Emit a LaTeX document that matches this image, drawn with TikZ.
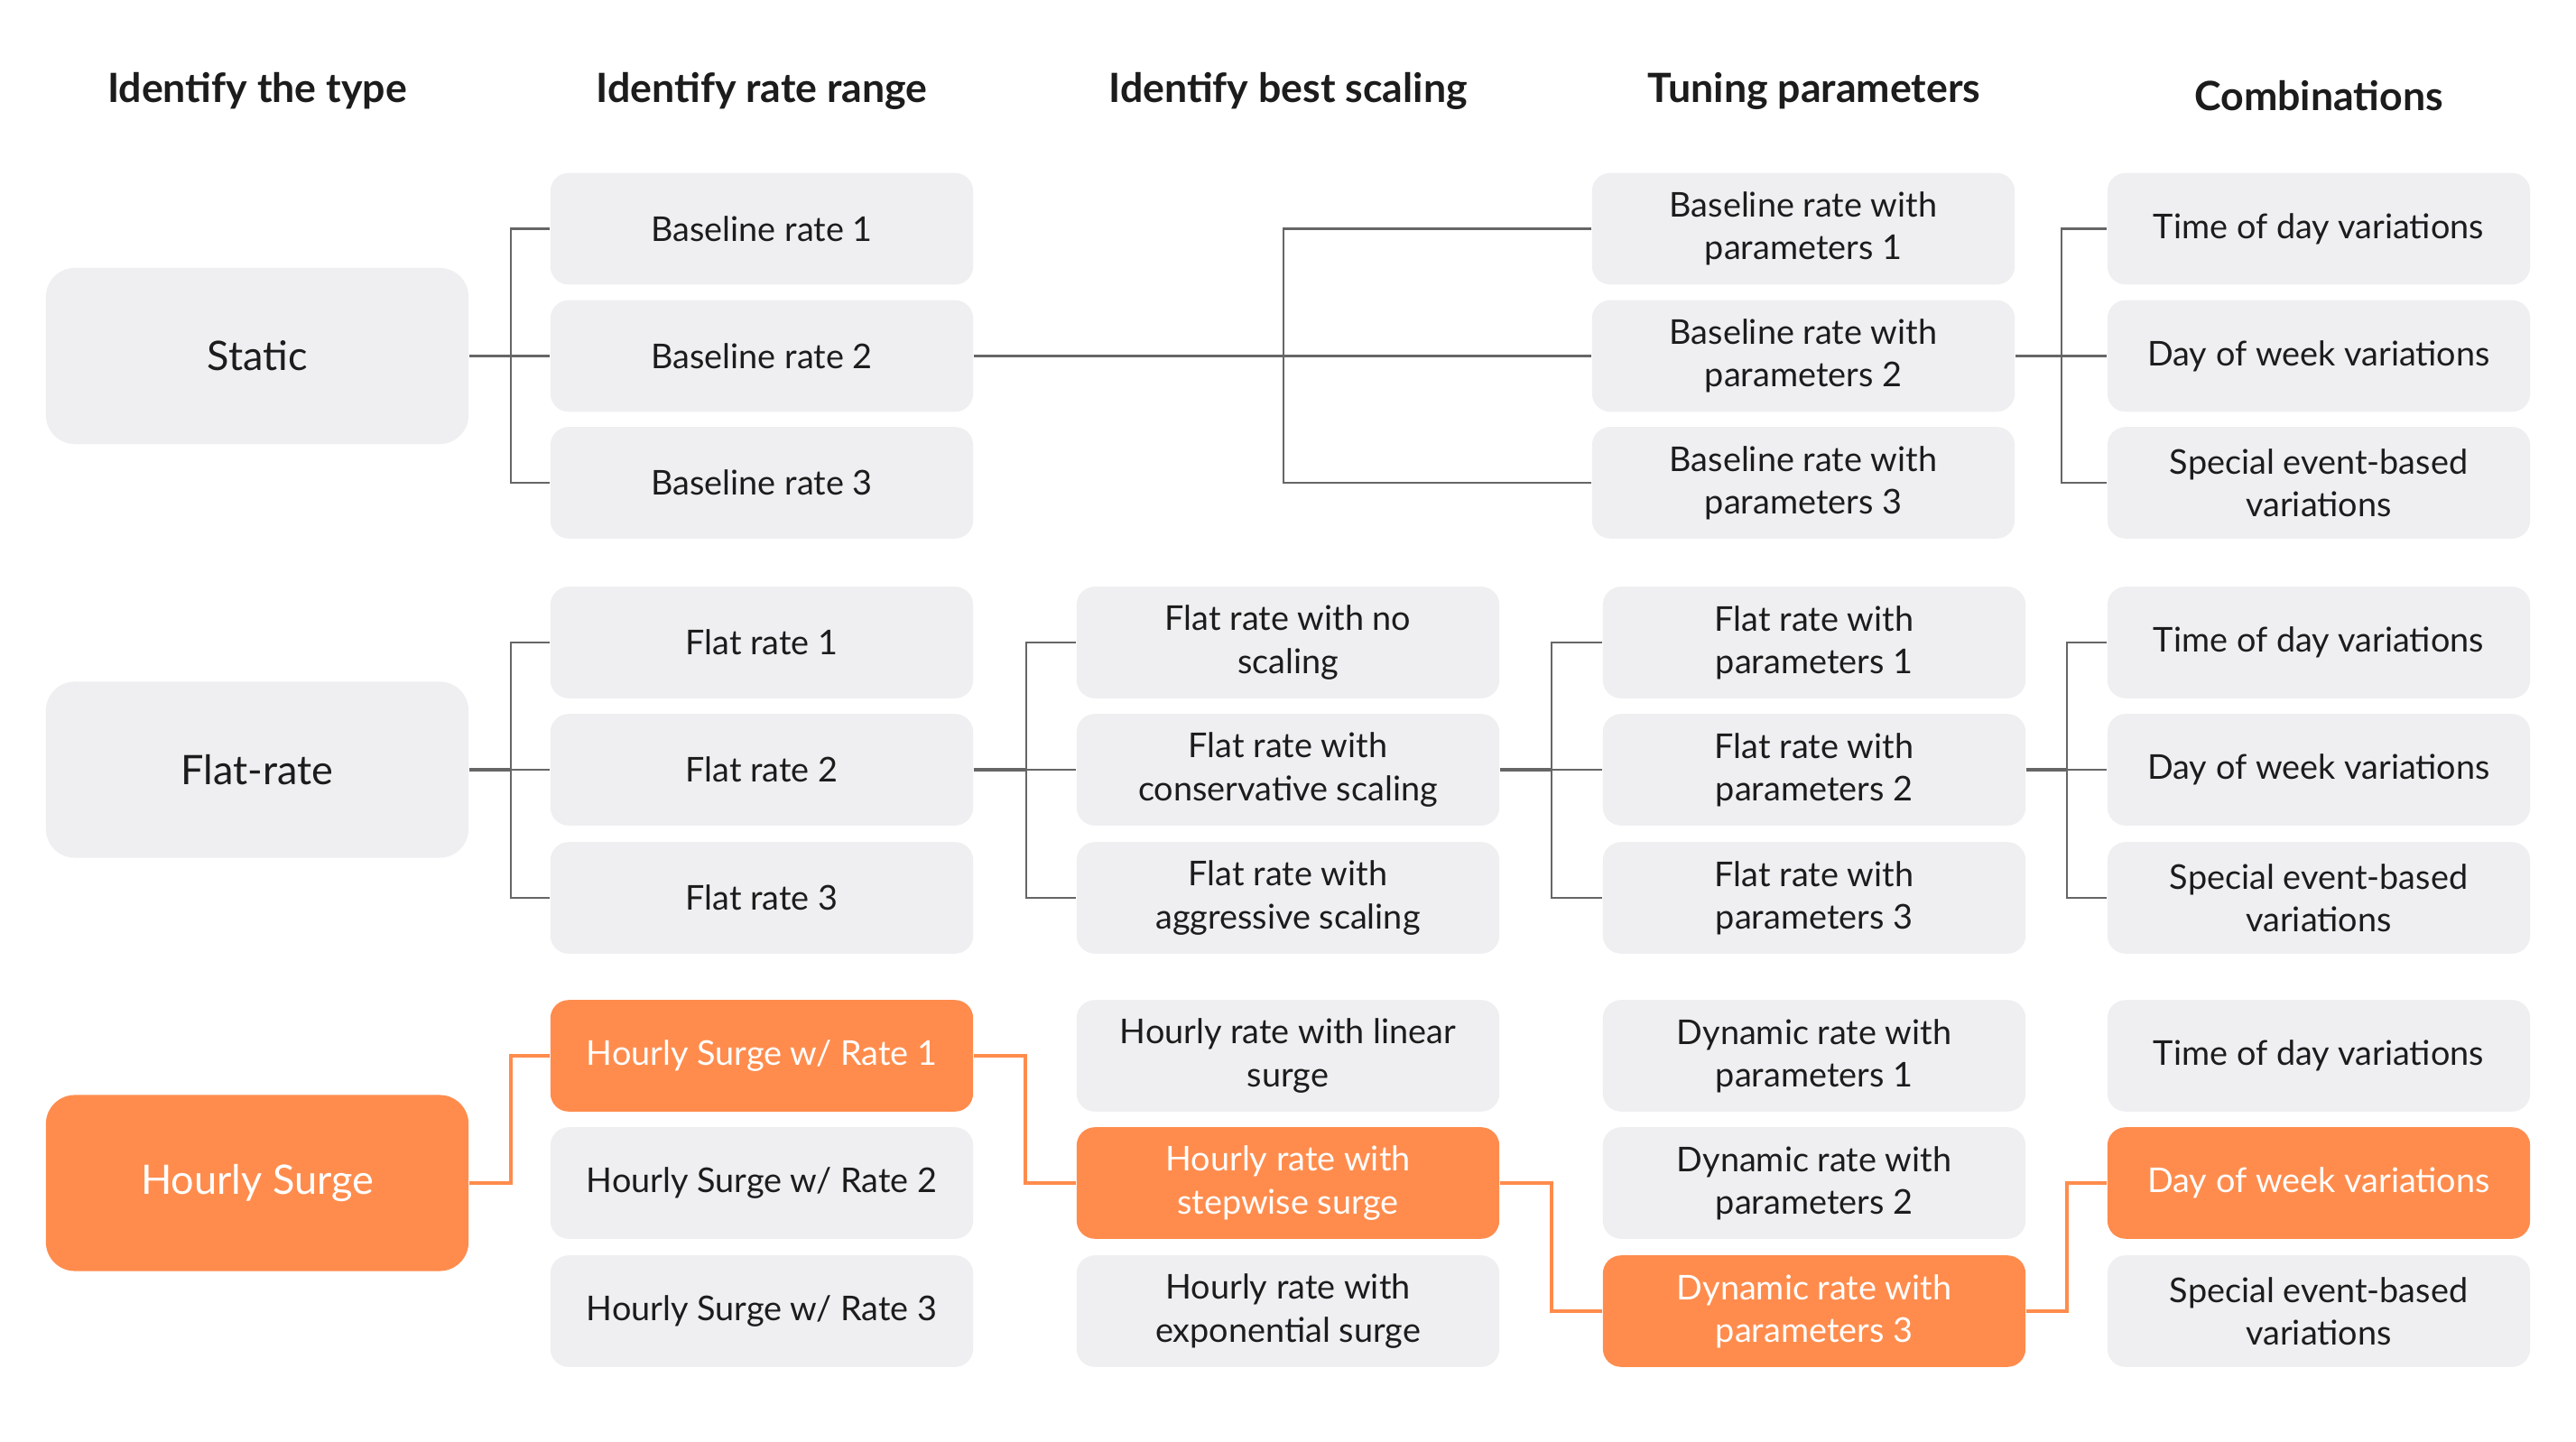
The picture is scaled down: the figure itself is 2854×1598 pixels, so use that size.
\documentclass[tikz,border=0pt]{standalone}
\usepackage{fontspec}
\setmainfont{Lato}
\definecolor{boxgray}{RGB}{239,238,241}
\definecolor{hlor}{RGB}{255,140,77}
\definecolor{linegray}{RGB}{102,102,102}
\definecolor{txt}{RGB}{28,28,28}
\newlength{\pxu}\setlength{\pxu}{0.01cm}
\tikzset{
  cell/.style={rounded corners=20\pxu, fill=boxgray, minimum width=4.68cm, minimum height=1.235cm, align=center, inner sep=0pt, text=txt, font=\fontsize{10.75pt}{13.4pt}\selectfont},
  big/.style={rounded corners=32\pxu, fill=boxgray, minimum width=4.68cm, minimum height=1.95cm, align=center, inner sep=0pt, text=txt, font=\fontsize{12.8pt}{15pt}\selectfont},
  hot/.style={fill=hlor, text=white},
  head/.style={font=\fontsize{12.7pt}{15pt}\selectfont\bfseries, text=txt, inner sep=0pt},
  branch/.style={draw=linegray, line width=2.4\pxu},
  trunk/.style={draw=linegray, line width=3.2\pxu},
  hl/.style={draw=hlor, line width=4.5\pxu, line join=miter},
}
\newcommand{\fanout}[5]{%
  \path (#1.east) ++(#2,0) coordinate (J);
  \draw[trunk] (#1.east) -- (J);
  \draw[branch] (#3.west) -| (J);
  \draw[branch] (#4.west) -- (J);
  \draw[branch] (#5.west) -| (J);
}
\begin{document}
\begin{tikzpicture}[x=0.01cm,y=-0.01cm]
\useasboundingbox[fill=white] (0,0) rectangle (2854,1598);
% headers
\node[head] (h1) at (285,101) {Identify the type};
\node[head] (h2) at (844,101) {Identify rate range};
\node[head] (h3) at (1427,101) {Identify best scaling};
\node[head] (h4) at (2010,101) {Tuning parameters};
\node[head] (h5) at (2569,106) {Combinations};
% Static group
\node[big] (tS) at (285,394.5) {Static};
\node[cell] (rS1) at (844,253.5) {Baseline rate 1};
\node[cell] (rS2) at (844,394.5) {Baseline rate 2};
\node[cell] (rS3) at (844,535) {Baseline rate 3};
\node[cell] (uS1) at (1998,253.5) {Baseline rate with\\parameters 1};
\node[cell] (uS2) at (1998,394.5) {Baseline rate with\\parameters 2};
\node[cell] (uS3) at (1998,535) {Baseline rate with\\parameters 3};
\node[cell] (cS1) at (2569,253.5) {Time of day variations};
\node[cell] (cS2) at (2569,394.5) {Day of week variations};
\node[cell] (cS3) at (2569,535) {Special event-based\\variations};
% Flat group
\node[big] (tF) at (285,853) {Flat-rate};
\node[cell] (rF1) at (844,712) {Flat rate 1};
\node[cell] (rF2) at (844,853) {Flat rate 2};
\node[cell] (rF3) at (844,995) {Flat rate 3};
\node[cell] (sF1) at (1427,712) {Flat rate with no\\scaling};
\node[cell] (sF2) at (1427,853) {Flat rate with\\conservative scaling};
\node[cell] (sF3) at (1427,995) {Flat rate with\\aggressive scaling};
\node[cell] (uF1) at (2010,712) {Flat rate with\\parameters 1};
\node[cell] (uF2) at (2010,853) {Flat rate with\\parameters 2};
\node[cell] (uF3) at (2010,995) {Flat rate with\\parameters 3};
\node[cell] (cF1) at (2569,712) {Time of day variations};
\node[cell] (cF2) at (2569,853) {Day of week variations};
\node[cell] (cF3) at (2569,995) {Special event-based\\variations};
% Hourly group
\node[big,hot] (tH) at (285,1311) {Hourly Surge};
\node[cell,hot] (rH1) at (844,1170) {Hourly Surge w/ Rate 1};
\node[cell] (rH2) at (844,1311) {Hourly Surge w/ Rate 2};
\node[cell] (rH3) at (844,1453) {Hourly Surge w/ Rate 3};
\node[cell] (sH1) at (1427,1170) {Hourly rate with linear\\surge};
\node[cell,hot] (sH2) at (1427,1311) {Hourly rate with\\stepwise surge};
\node[cell] (sH3) at (1427,1453) {Hourly rate with\\exponential surge};
\node[cell] (uH1) at (2010,1170) {Dynamic rate with\\parameters 1};
\node[cell] (uH2) at (2010,1311) {Dynamic rate with\\parameters 2};
\node[cell,hot] (uH3) at (2010,1453) {Dynamic rate with\\parameters 3};
\node[cell] (cH1) at (2569,1170) {Time of day variations};
\node[cell,hot] (cH2) at (2569,1311) {Day of week variations};
\node[cell] (cH3) at (2569,1453) {Special event-based\\variations};
% connectors
\fanout{tS}{46}{rS1}{rS2}{rS3}
\fanout{rS2}{343}{uS1}{uS2}{uS3}
\fanout{uS2}{51}{cS1}{cS2}{cS3}
\fanout{tF}{46}{rF1}{rF2}{rF3}
\fanout{rF2}{58}{sF1}{sF2}{sF3}
\fanout{sF2}{57}{uF1}{uF2}{uF3}
\fanout{uF2}{45}{cF1}{cF2}{cF3}
\draw[hl] (tH.east) -- ++(46,0) |- (rH1.west);
\draw[hl] (rH1.east) -- ++(57,0) |- (sH2.west);
\draw[hl] (sH2.east) -- ++(57,0) |- (uH3.west);
\draw[hl] (uH3.east) -- ++(45,0) |- (cH2.west);
\end{tikzpicture}
\end{document}
